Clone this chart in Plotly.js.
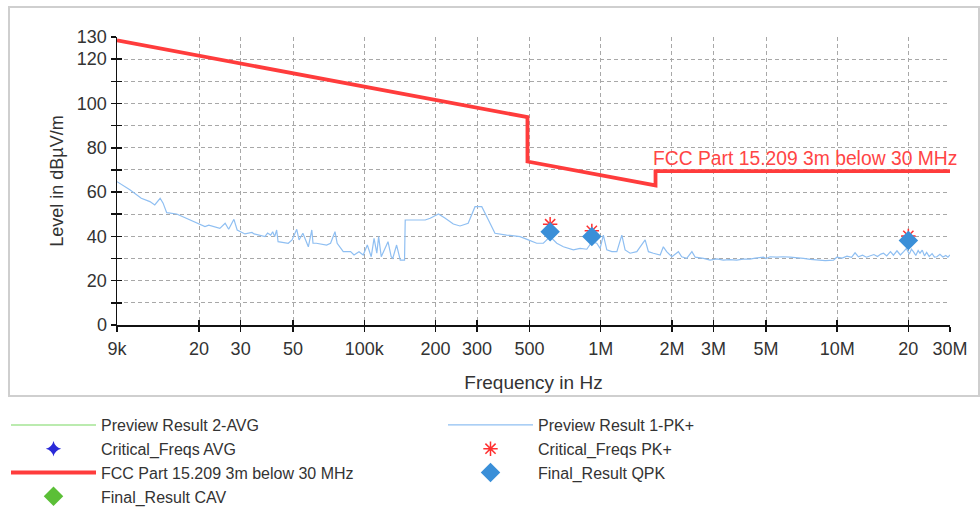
<!DOCTYPE html>
<html>
<head>
<meta charset="utf-8">
<script src="https://cdn.plot.ly/plotly-3.0.1.min.js"></script>
<style>
html,body{margin:0;padding:0;background:#fff;}
#chart{width:980px;height:510px;}
</style>
</head>
<body>
<div id="chart"></div>
<script>
// ---- data (frequency in Hz, level in dBµV/m) ----
const pkFreq = [9000,10200,11400,12400,13000,13700,14100,14600,16100,17700,19900,21200,22000,24500,25800,26700,28100,29000,31300,33500,34200,38000,39000,40200,41000,41800,42600,43200,47700,49500,51800,53000,55000,58000,60000,60700,62700,69300,72000,75200,76800,81500,87500,90500,95000,99000,103000,107000,110000,113000,115000,118000,126000,130000,132000,137000,142000,148000,149000,181000,190000,206000,220000,238000,254000,275000,294000,314000,335000,357000,400000,456000,494000,536000,572000,611000,652000,695000,766000,818000,873000,917000,962000,994000,1026000,1061000,1114000,1170000,1228000,1268000,1331000,1421000,1541000,1591000,1670000,1784000,1840000,1900000,2000000,2130000,2200000,2310000,2430000,2510000,2720000,2900000,3100000,3300000,3500000,3760000,4000000,4280000,4500000,4880000,5000000,5200000,5550000,5900000,6330000,6800000,7200000,7700000,8200000,8900000,9650000,9960000,10500000,11000000,11500000,11900000,12300000,12800000,13300000,13800000,14300000,14800000,15300000,15700000,16200000,16800000,17300000,17900000,18500000,19100000,19600000,20200000,20600000,21000000,21500000,22000000,22400000,22900000,23400000,23900000,24500000,25200000,25800000,26400000,27200000,28000000,28800000,29400000,30000000];
const pkLevel = [64.7,61.0,57.2,55.7,54.2,57.2,55.0,50.7,50.1,48.2,45.5,44.4,45.1,43.6,45.9,43.2,47.7,42.9,41.1,41.8,41.1,39.9,41.5,40.6,42.1,39.9,42.9,37.6,36.9,38.4,43.2,38.4,41.4,35.3,42.9,36.9,36.9,36.1,36.9,42.1,36.9,33.1,33.1,31.6,33.1,31.6,36.1,30.8,39.1,32.4,39.9,30.8,37.6,30.8,30.1,36.1,29.3,29.3,47.4,47.4,48.2,50.1,48.2,45.6,44.7,45.9,53.4,53.4,47.4,41.4,40.6,39.9,38.4,36.9,36.9,39.9,36.9,35.3,33.9,34.6,34.2,37.5,36.9,34.6,40.6,33.9,33.1,33.1,40.6,33.9,32.4,33.1,38.4,33.1,32.4,31.6,35.3,33.1,30.8,33.1,30.8,30.1,33.1,30.6,30.1,29.3,29.8,29.3,29.5,29.3,29.7,29.7,30.2,30.6,30.0,30.8,30.6,30.8,30.6,30.4,30.1,29.6,29.3,29.1,29.3,30.6,30.2,31.1,30.5,32.6,30.8,31.5,30.6,31.1,31.8,30.9,32.0,32.4,31.2,33.1,31.5,33.5,31.6,33.1,34.5,32.0,34.2,33.1,31.4,33.6,32.4,33.8,31.2,32.8,30.9,32.2,30.6,30.8,31.9,30.7,31.4,30.6,31.6];

const avgFreq = [];
const avgLevel = [];

const critAvgFreq = [];
const critAvgLevel = [];

const critPkFreq = [611000, 917000, 20000000];
const critPkLevel = [45.5, 42.5, 40.2];

const limitFreq = [9000, 490000, 490000, 1705000, 1705000, 30000000];
const limitLevel = [128.5, 93.8, 73.8, 63.0, 69.5, 69.5];

const qpkFreq = [611000, 917000, 20000000];
const qpkLevel = [42.1, 39.9, 38.1];

const cavFreq = [];
const cavLevel = [];

const xTickVals = [9e3, 2e4, 3e4, 5e4, 1e5, 2e5, 3e5, 5e5, 1e6, 2e6, 3e6, 5e6, 1e7, 2e7, 3e7];
const xTickText = ['9k', '20', '30', '50', '100k', '200', '300', '500', '1M', '2M', '3M', '5M', '10M', '20', '30M'];
const yTickVals = [0, 10, 20, 30, 40, 50, 60, 70, 80, 90, 100, 110, 120, 130];
const yTickText = ['0', '', '20', '', '40', '', '60', '', '80', '', '100', '', '120', '130'];

const limitName = 'FCC Part 15.209 3m below 30 MHz';

// ---- chart ----
const FONT = 'Liberation Sans, Arial, sans-serif';
const TXT = '#333333';
const xRange = [Math.log10(xTickVals[0]), Math.log10(xTickVals[xTickVals.length - 1])];
const yRange = [yTickVals[0], yTickVals[yTickVals.length - 1]];
// series without measured points still need an entry in the legend
const orGap = a => (a.length ? a : [null]);

const traces = [
  {name: 'Preview Result 2-AVG', x: orGap(avgFreq), y: orGap(avgLevel), type: 'scatter', mode: 'lines',
   line: {color: '#a4e495', width: 1.5}},
  {name: 'Preview Result 1-PK+', x: pkFreq, y: pkLevel, type: 'scatter', mode: 'lines',
   line: {color: '#8fbff2', width: 1.2}},
  {name: 'Critical_Freqs AVG', x: orGap(critAvgFreq), y: orGap(critAvgLevel), type: 'scatter', mode: 'markers',
   marker: {symbol: 'star-diamond', size: 11, color: '#2a2ad8'}},
  {name: 'Critical_Freqs PK+', x: critPkFreq, y: critPkLevel, type: 'scatter', mode: 'markers',
   marker: {symbol: 'asterisk-open', size: 12, color: '#ff3030', line: {color: '#ff3030', width: 1.5}}},
  {name: limitName, x: limitFreq, y: limitLevel, type: 'scatter', mode: 'lines',
   line: {color: '#ff3c3c', width: 3.8}},
  {name: 'Final_Result QPK', x: qpkFreq, y: qpkLevel, type: 'scatter', mode: 'markers',
   marker: {symbol: 'diamond', size: 15, color: '#3a8fd8'}},
  {name: 'Final_Result CAV', x: orGap(cavFreq), y: orGap(cavLevel), type: 'scatter', mode: 'markers',
   marker: {symbol: 'diamond', size: 15, color: '#5bbf37'}},
  {x: [], y: [], xaxis: 'x2', yaxis: 'y2', type: 'scatter', mode: 'lines', showlegend: false, hoverinfo: 'skip'}
];

const axisCommon = {
  ticks: 'outside', ticklen: 5, tickwidth: 1.5, tickcolor: '#111',
  showline: true, linecolor: '#111', linewidth: 1.5,
  showgrid: true, gridcolor: '#a8a8a8', gridwidth: 1, griddash: '4px,3px',
  zeroline: false, tickfont: {family: FONT, size: 18, color: TXT},
  fixedrange: true, automargin: false
};

const layout = {
  width: 980, height: 510,
  margin: {l: 117, r: 30, t: 37, b: 185, pad: 0, autoexpand: false},
  paper_bgcolor: '#ffffff', plot_bgcolor: '#ffffff',
  font: {family: FONT, color: TXT},
  showlegend: true,
  xaxis: Object.assign({}, axisCommon, {
    type: 'log', range: xRange, tickmode: 'array', tickvals: xTickVals, ticktext: xTickText,
    ticklabelstandoff: 2,
    title: {text: 'Frequency in Hz', font: {family: FONT, size: 19, color: TXT}, standoff: 17}
  }),
  yaxis: Object.assign({}, axisCommon, {
    range: yRange, tickmode: 'array', tickvals: yTickVals, ticktext: yTickText,
    ticklabelstandoff: 0,
    title: {text: 'Level in dBµV/m', font: {family: FONT, size: 18, color: TXT}, standoff: 8}
  }),
  xaxis2: {type: 'log', range: xRange, overlaying: 'x', anchor: 'y2', tickmode: 'array', tickvals: xTickVals,
    ticks: 'inside', ticklen: 5, tickwidth: 1.5, tickcolor: '#111', showticklabels: false,
    showgrid: false, showline: false, zeroline: false, fixedrange: true},
  yaxis2: {range: yRange, overlaying: 'y', anchor: 'x2', tickmode: 'array', tickvals: yTickVals,
    ticks: 'inside', ticklen: 5, tickwidth: 1.5, tickcolor: '#111', showticklabels: false,
    showgrid: false, showline: false, zeroline: false, fixedrange: true},
  legend: {
    orientation: 'h', x: -0.13325, xanchor: 'left', y: -0.2882, yanchor: 'top',
    itemwidth: 85, entrywidth: 337, entrywidthmode: 'pixels',
    traceorder: 'normal', font: {family: FONT, size: 16, color: TXT},
    bgcolor: 'rgba(0,0,0,0)', borderwidth: 0
  },
  annotations: [{
    x: Math.log10(limitFreq[limitFreq.length - 1]), y: limitLevel[limitLevel.length - 1],
    xref: 'x', yref: 'y', text: limitName, showarrow: false,
    xanchor: 'right', yanchor: 'bottom', xshift: 9, yshift: 0,
    font: {family: FONT, size: 19.3, color: '#ff4545'}
  }],
  shapes: [{
    type: 'rect', xref: 'paper', yref: 'paper', layer: 'below',
    x0: -0.12965, x1: 1.0348, y0: -0.24653, y1: 1.10417,
    line: {color: '#cfcfcf', width: 2}, fillcolor: 'rgba(0,0,0,0)'
  }]
};

Plotly.newPlot('chart', traces, layout, {staticPlot: true, displayModeBar: false});
</script>
</body>
</html>
